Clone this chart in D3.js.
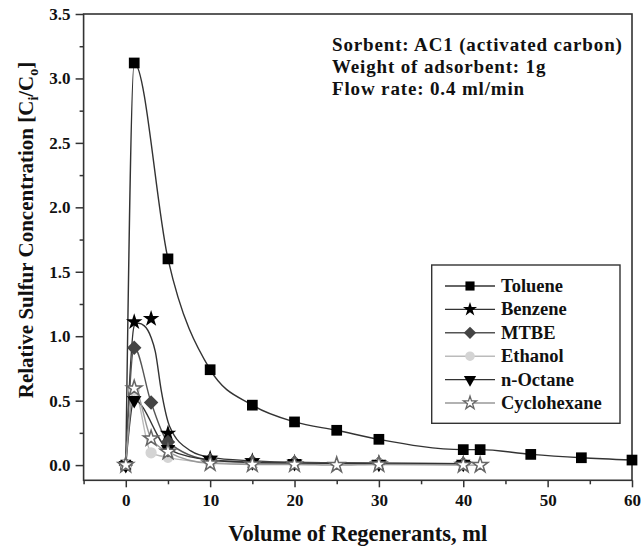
<!DOCTYPE html>
<html><head><meta charset="utf-8">
<script src="https://cdn.jsdelivr.net/npm/d3@7"></script>
<style>
body{margin:0;background:#fff;}
text{font-family:"Liberation Serif","Times New Roman",serif;font-weight:bold;fill:#111;}
</style></head>
<body><svg id="c" width="643" height="549"></svg>
<script>
// ---- data ----
const xTicks = [0, 10, 20, 30, 40, 50, 60];
const yTicks = [0.0, 0.5, 1.0, 1.5, 2.0, 2.5, 3.0, 3.5];

const tolueneX = [0, 1, 5, 10, 15, 20, 25, 30, 40, 42, 48, 54, 60];
const tolueneY = [0, 3.12, 1.6, 0.74, 0.465, 0.335, 0.27, 0.2, 0.12, 0.12, 0.083, 0.057, 0.039];

const benzeneX = [0, 1, 3, 5, 10, 15, 20, 30, 40];
const benzeneY = [0, 1.11, 1.135, 0.245, 0.052, 0.033, 0.02, 0.015, 0.01];
const benzeneFitX = [0, 1, 1.5, 2.2, 3, 3.5, 4.2, 5.2, 7.7, 10, 15, 20, 30, 40];
const benzeneFitY = [0, 1.08, 1.1, 1.08, 0.99, 0.88, 0.58, 0.3, 0.11, 0.06, 0.033, 0.02, 0.015, 0.01];

const mtbeX = [0, 1, 3, 5, 10, 15, 20, 30, 40];
const mtbeY = [0, 0.91, 0.486, 0.18, 0.04, 0.025, 0.02, 0.015, 0.01];

const ethanolX = [0, 1, 3, 5, 10, 15, 20, 30, 40];
const ethanolY = [0, 0.58, 0.095, 0.06, 0.02, 0.01, 0.01, 0.01, 0.005];

const octaneX = [0, 1, 5, 10, 15, 20, 30, 40];
const octaneY = [0, 0.504, 0.124, 0.04, 0.02, 0.015, 0.01, 0.01];

const cycloX = [0, 1, 3, 5, 10, 15, 20, 25, 30, 40, 42];
const cycloY = [0, 0.595, 0.207, 0.103, 0.013, 0.005, 0.005, 0, 0.005, 0, 0];

const seriesNames = ["Toluene", "Benzene", "MTBE", "Ethanol", "n-Octane", "Cyclohexane"];

const annotation = ["Sorbent: AC1 (activated carbon)", "Weight of adsorbent: 1g", "Flow rate: 0.4 ml/min"];

// ---- build ----
const zip = (xs, ys) => xs.map((x, i) => ({x, y: ys[i]}));
const series = [
  {name: seriesNames[0], pts: zip(tolueneX, tolueneY), sym: "square", fill: "#000", stroke: "none", line: "#333"},
  {name: seriesNames[1], pts: zip(benzeneX, benzeneY), fit: zip(benzeneFitX, benzeneFitY), sym: "star", fill: "#000", stroke: "none", line: "#333"},
  {name: seriesNames[2], pts: zip(mtbeX, mtbeY), sym: "diamond", fill: "#444", stroke: "none", line: "#555"},
  {name: seriesNames[3], pts: zip(ethanolX, ethanolY), sym: "circle", fill: "#d4d4d4", stroke: "none", line: "#bbb"},
  {name: seriesNames[4], pts: zip(octaneX, octaneY), sym: "tridown", fill: "#000", stroke: "none", line: "#333"},
  {name: seriesNames[5], pts: zip(cycloX, cycloY), sym: "hstar", fill: "#fff", stroke: "#666", line: "#999"}
];

const svg = d3.select("#c");
const L = 83.6, R = 632, T = 14, B = 480.3;
const x = d3.scaleLinear().domain([-5, 60]).range([L, R]);
const y = d3.scaleLinear().domain([-0.118, 3.5]).range([B, T]);

// frame
svg.append("rect").attr("x", L).attr("y", T).attr("width", R - L).attr("height", B - T)
  .attr("fill", "none").attr("stroke", "#333").attr("stroke-width", 1.6);

// x axis
const xAxis = d3.axisBottom(x).tickValues(xTicks).tickSize(7).tickPadding(7).tickFormat(d3.format("d"));
svg.append("g").attr("transform", `translate(0,${B})`).call(xAxis);
const xMinor = d3.axisBottom(x).tickValues([-5, 5, 15, 25, 35, 45, 55]).tickSize(4).tickFormat("");
svg.append("g").attr("transform", `translate(0,${B})`).call(xMinor);

// y axis
const yAxis = d3.axisLeft(y).tickValues(yTicks).tickSize(8).tickPadding(5).tickFormat(d3.format(".1f"));
svg.append("g").attr("transform", `translate(${L},0)`).call(yAxis);
const yMinor = d3.axisLeft(y).tickValues([0.25, 0.75, 1.25, 1.75, 2.25, 2.75, 3.25]).tickSize(4).tickFormat("");
svg.append("g").attr("transform", `translate(${L},0)`).call(yMinor);

svg.selectAll(".domain").remove();
svg.selectAll(".tick line").attr("stroke", "#333").attr("stroke-width", 1.5);
svg.selectAll(".tick text").style("font-size", "17px").style("font-family", "Liberation Serif").style("font-weight", "bold").attr("fill", "#111");

// axis titles
svg.append("text").attr("x", (L + R) / 2 - 0).attr("y", 541).attr("text-anchor", "middle")
  .style("font-size", "22.5px").text("Volume of Regenerants, ml");
const yl = svg.append("text").attr("transform", `translate(33,230) rotate(-90)`).attr("text-anchor", "middle")
  .style("font-size", "21px");
yl.append("tspan").text("Relative Sulfur Concentration [C");
yl.append("tspan").attr("dy", 5).style("font-size", "14px").text("i");
yl.append("tspan").attr("dy", -5).text("/C");
yl.append("tspan").attr("dy", 5).style("font-size", "14px").text("o");
yl.append("tspan").attr("dy", -5).text("]");

// symbols
function symPath(sym) {
  switch (sym) {
    case "square": return d3.symbol(d3.symbolSquare, 115)();
    case "star": return d3.symbol(d3.symbolStar, 85)();
    case "hstar": return d3.symbol(d3.symbolStar, 75)();
    case "diamond": return d3.symbol(d3.symbolSquare, 105)();
    case "circle": return d3.symbol(d3.symbolCircle, 100)();
    case "tridown": return d3.symbol(d3.symbolTriangle, 90)();
  }
}
function symRot(sym) { return sym === "diamond" ? 45 : sym === "tridown" ? 180 : 0; }

const line = d3.line().x(d => x(d.x)).y(d => y(d.y)).curve(d3.curveMonotoneX);

series.forEach(s => {
  svg.append("path").attr("d", line(s.fit || s.pts)).attr("fill", "none")
    .attr("stroke", s.line).attr("stroke-width", 1.4);
});
series.forEach(s => {
  svg.append("g").selectAll("path").data(s.pts).join("path")
    .attr("d", symPath(s.sym))
    .attr("transform", d => `translate(${x(d.x)},${y(d.y)}) rotate(${symRot(s.sym)})`)
    .attr("fill", s.fill).attr("stroke", s.stroke).attr("stroke-width", s.stroke === "none" ? 0 : 1.5);
});

// annotation
annotation.forEach((t, i) => {
  svg.append("text").attr("x", 332).attr("y", 51 + i * 22).style("font-size", "19px")
    .style("letter-spacing", "0.85px").text(t);
});

// legend
const lg = svg.append("g");
lg.append("rect").attr("x", 431.7).attr("y", 265).attr("width", 188.3).attr("height", 158.3)
  .attr("fill", "#fff").attr("stroke", "#333").attr("stroke-width", 1.4);
series.forEach((s, i) => {
  const cy = 286 + i * 23.4;
  lg.append("line").attr("x1", 445).attr("x2", 495).attr("y1", cy).attr("y2", cy)
    .attr("stroke", s.line).attr("stroke-width", 1.4);
  lg.append("path").attr("d", symPath(s.sym))
    .attr("transform", `translate(470,${cy}) rotate(${symRot(s.sym)}) scale(0.85)`)
    .attr("fill", s.fill).attr("stroke", s.stroke).attr("stroke-width", s.stroke === "none" ? 0 : 1.5);
  lg.append("text").attr("x", 501).attr("y", cy + 6).style("font-size", "18.5px").text(s.name);
});
</script></body></html>
